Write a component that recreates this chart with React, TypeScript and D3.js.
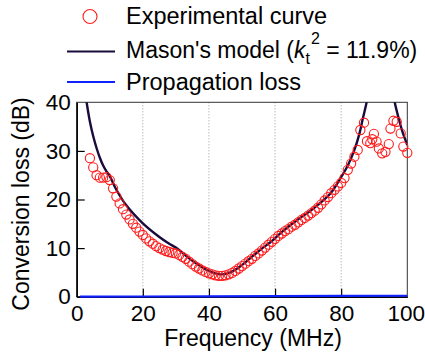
import { useEffect, useRef } from "react";
import * as d3 from "d3";

// measured curve (circles)
const expFreq = [
  4, 5, 6, 7, 8, 9, 10, 11, 12, 13, 14, 15, 16, 17, 18, 19, 20, 21, 22, 23, 24, 25, 26, 27, 28, 29,
  30, 31, 32, 33, 34, 35, 36, 37, 38, 39, 40, 41, 42, 43, 44, 45, 46, 47, 48, 49, 50, 51, 52, 53, 54,
  55, 56, 57, 58, 59, 60, 61, 62, 63, 64, 65, 66, 67, 68, 69, 70, 71, 72, 73, 74, 75, 76, 77, 78, 79,
  80, 81, 82, 83, 84, 85, 85.8, 86.9, 87.8, 88.8, 89.4, 89.9, 90.7, 91.4, 92.4, 93.4, 94.4, 94.9,
  95.8, 96.8, 98, 98.8, 100,
];
const expLoss = [
  28.5, 26.6, 25.0, 24.5, 24.5, 24.6, 24.0, 22.3, 20.6, 19.2, 18.0, 16.9, 15.9, 15.0, 14.2, 13.4,
  12.7, 12.0, 11.4, 10.9, 10.4, 10.0, 9.7, 9.4, 9.2, 9.0, 8.9, 8.6, 8.2, 7.8, 7.2, 6.7, 6.2, 5.8,
  5.4, 5.1, 4.8, 4.6, 4.4, 4.3, 4.3, 4.4, 4.6, 4.9, 5.3, 5.8, 6.3, 6.8, 7.3, 7.8, 8.4, 8.9, 9.5,
  10.1, 10.7, 11.3, 11.9, 12.5, 13.0, 13.5, 13.9, 14.4, 14.8, 15.3, 15.8, 16.2, 16.7, 17.2, 17.7,
  18.3, 19.0, 19.8, 20.5, 21.3, 22.0, 22.7, 23.4, 24.4, 26.1, 27.4, 28.8, 30.2, 34.3, 35.8, 32.0,
  31.6, 32.4, 33.5, 31.9, 30.5, 29.5, 29.8, 31.4, 34.6, 36.2, 36.0, 33.6, 30.9, 29.6,
];

// Mason's model, below and above the anti-resonance
const masonFreqLow = [2.6, 3, 4, 5, 6, 7, 8, 9, 10, 12, 15, 20, 25, 28, 30, 35, 40, 43.5, 46.5, 50, 53.5, 56, 58.6, 62, 66.7, 71.7, 76.8, 79.8, 82, 84, 85.5, 86.5, 87.7, 88.2];
const masonLossLow = [42, 40, 36.0, 33.0, 30.6, 28.6, 27.0, 25.8, 24.8, 22.0, 18.8, 15.1, 12.3, 10.9, 10.1, 7.4, 5.3, 4.6, 5.0, 6.5, 8.5, 9.9, 11.2, 13.3, 15.8, 18.2, 21.3, 24.4, 27.0, 30.2, 33.5, 36.5, 40, 42];
const masonFreqHigh = [95.8, 96.2, 97.5, 98.5, 100];
const masonLossHigh = [42, 40, 36.4, 34.0, 31.2];

const propFreq = [1, 20, 40, 60, 80, 100];
const propLoss = [0.0, 0.04, 0.08, 0.11, 0.15, 0.2];

const xTicks = [0, 20, 40, 60, 80, 100];
const yTicks = [0, 10, 20, 30, 40];
const gridTicks = [20, 40, 60, 80];

const W = 425;
const H = 356;
const FONT = "'Liberation Sans', Arial, sans-serif";

const App = () => {
  const svgRef = useRef(null);

  useEffect(() => {
    const svg = d3.select(svgRef.current);
    svg.selectAll("*").remove();

    const margin = { left: 76.7, right: 17.7, top: 102.3, bottom: 59.3 };
    const x = d3.scaleLinear().domain([0, 100]).range([margin.left, W - margin.right]);
    const y = d3.scaleLinear().domain([0, 40]).range([H - margin.bottom, margin.top]);

    svg.append("clipPath").attr("id", "plot-clip")
      .append("rect")
      .attr("x", x(0)).attr("y", y(40))
      .attr("width", x(100) - x(0)).attr("height", y(0) - y(40));

    // grid
    svg.append("g").selectAll("line")
      .data(gridTicks).enter().append("line")
      .attr("x1", d => x(d)).attr("x2", d => x(d))
      .attr("y1", y(40)).attr("y2", y(0))
      .attr("stroke", "#999").attr("stroke-width", 1)
      .attr("stroke-dasharray", "1,2");

    // frame
    svg.append("rect")
      .attr("x", x(0)).attr("y", y(40))
      .attr("width", x(100) - x(0)).attr("height", y(0) - y(40))
      .attr("fill", "none").attr("stroke", "#333").attr("stroke-width", 1);

    const xAxis = svg.append("g")
      .attr("transform", `translate(0, ${y(0)})`)
      .call(d3.axisBottom(x).tickValues(xTicks).tickSizeInner(-8).tickSizeOuter(0).tickPadding(8));
    const yAxis = svg.append("g")
      .attr("transform", `translate(${x(0)}, 0)`)
      .call(d3.axisLeft(y).tickValues(yTicks).tickSizeInner(-8).tickSizeOuter(0).tickPadding(6));

    [xAxis, yAxis].forEach(a => {
      a.select(".domain").attr("stroke", "#000").attr("stroke-width", 1.5);
      a.selectAll(".tick line").attr("stroke", "#000").attr("stroke-width", 1.2);
      a.selectAll("text").attr("font-size", 22.5).attr("font-family", FONT).attr("fill", "#000");
    });
    xAxis.selectAll(".tick").filter(d => d === 0 || d === 100).select("line").remove();
    xAxis.selectAll(".tick").filter(d => d === 100).select("text").attr("dx", -1.5);
    yAxis.selectAll(".tick").filter(d => d === 0 || d === 40).select("line").remove();

    const line = d3.line().x(d => x(d[0])).y(d => y(d[1]));
    const curvedLine = d3.line().x(d => x(d[0])).y(d => y(d[1])).curve(d3.curveCatmullRom);

    // propagation loss
    svg.append("path")
      .attr("d", line(propFreq.map((f, i) => [f, propLoss[i]])))
      .attr("fill", "none").attr("stroke", "#1020ff").attr("stroke-width", 2.2);

    // model
    const plot = svg.append("g").attr("clip-path", "url(#plot-clip)");
    [[masonFreqLow, masonLossLow], [masonFreqHigh, masonLossHigh]].forEach(([fs, ls]) => {
      plot.append("path")
        .attr("d", curvedLine(fs.map((f, i) => [f, ls[i]])))
        .attr("fill", "none").attr("stroke", "#1a0b3c").attr("stroke-width", 2.4);
    });

    // experimental
    svg.append("g").selectAll("circle")
      .data(expFreq.map((f, i) => [f, expLoss[i]]))
      .enter().append("circle")
      .attr("cx", d => x(d[0])).attr("cy", d => y(d[1]))
      .attr("r", 4.6)
      .attr("fill", "none").attr("stroke", "#ff1a1a").attr("stroke-width", 1.1);

    // axis labels
    svg.append("text")
      .attr("x", 253).attr("y", 346)
      .attr("text-anchor", "middle")
      .attr("font-size", 23).attr("font-family", FONT)
      .text("Frequency (MHz)");
    svg.append("text")
      .attr("transform", `translate(29, ${204}) rotate(-90)`)
      .attr("text-anchor", "middle")
      .attr("font-size", 23).attr("font-family", FONT)
      .text("Conversion loss (dB)");

    // legend
    const legend = svg.append("g").attr("font-size", 23).attr("font-family", FONT);
    legend.append("circle").attr("cx", 90).attr("cy", 16.5).attr("r", 7)
      .attr("fill", "none").attr("stroke", "#ff1a1a").attr("stroke-width", 1.1);
    legend.append("text").attr("x", 126).attr("y", 24).attr("font-size", 23.5).text("Experimental curve");

    legend.append("line").attr("x1", 67).attr("x2", 115).attr("y1", 51.5).attr("y2", 51.5)
      .attr("stroke", "#1a0b3c").attr("stroke-width", 2.2);
    const mason = legend.append("text").attr("x", 126).attr("y", 58);
    mason.append("tspan").text("Mason's model (");
    mason.append("tspan").attr("font-style", "italic").text("k");
    mason.append("tspan").attr("font-size", 16).attr("dy", 6).text("t");
    mason.append("tspan").attr("font-size", 16).attr("dx", 1).attr("dy", -20).text("2");
    mason.append("tspan").attr("dy", 14).text(" = 11.9%)");

    legend.append("line").attr("x1", 67).attr("x2", 115).attr("y1", 82).attr("y2", 82)
      .attr("stroke", "#1020ff").attr("stroke-width", 2.2);
    legend.append("text").attr("x", 126).attr("y", 90).attr("font-size", 23.5).text("Propagation loss");
  }, []);

  return (
    <div>
      <svg ref={svgRef} width={W} height={H}
        style={{ position: "absolute", left: 0, top: 0, background: "#fff" }} />
    </div>
  );
};

export default App;
